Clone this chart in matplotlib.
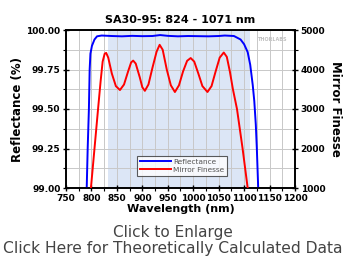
import matplotlib
matplotlib.use("Agg")
import matplotlib.pyplot as plt
from matplotlib.ticker import MultipleLocator

title = "SA30-95: 824 - 1071 nm"
band = [833, 1112]

refl_wl = [789.5, 790.7, 792.6, 795.0, 796.5, 798.0, 801.0, 806.0, 811.0, 820.0, 840.0, 860.0,
           880.0, 900.0, 920.0, 935.0, 950.0, 970.0, 990.0, 1010.0, 1030.0, 1050.0, 1062.0,
           1080.0, 1093.0, 1100.0, 1107.0, 1112.0, 1117.0, 1120.0, 1123.0, 1125.0, 1127.7, 1128.5]
refl_val = [98.9, 99.0, 99.25, 99.5, 99.75, 99.85, 99.9, 99.94, 99.96, 99.965, 99.962, 99.96,
            99.963, 99.961, 99.962, 99.968, 99.963, 99.96, 99.962, 99.961, 99.96, 99.962, 99.965,
            99.962, 99.94, 99.91, 99.86, 99.78, 99.65, 99.55, 99.4, 99.25, 99.0, 98.9]

fin_wl = [797.5, 799, 806, 813, 818, 822, 826, 829, 833, 840, 848, 856, 864, 872, 878, 882, 887,
          895, 900, 905, 912, 920, 928, 934, 940, 948, 956, 964, 972, 980, 988, 995, 1002,
          1010, 1018, 1028, 1036, 1044, 1052, 1060, 1066, 1072, 1078, 1086, 1097, 1107, 1108.5]
fin_val = [900, 1000, 2000, 3000, 3700, 4200, 4400, 4420, 4300, 3900, 3580, 3480, 3620, 3950,
           4180, 4225, 4150, 3800, 3550, 3460, 3620, 4050, 4450, 4625, 4500, 4000, 3600, 3430,
           3600, 3950, 4220, 4290, 4200, 3900, 3580, 3430, 3580, 3950, 4300, 4430, 4320, 3950,
           3500, 3000, 2000, 1000, 900]

legend_labels = ["Reflectance", "Mirror Finesse"]

fig = plt.figure(figsize=(3.46, 2.58), dpi=100)
ax = fig.add_axes([66/346, 1-188/258, (295-66)/346, (188-30)/258])
ax2 = ax.twinx()

ax.axvspan(band[0], band[1], color="#dce6f6", zorder=0, lw=0)
ax.set_xlim(750, 1200)
ax.set_ylim(99.0, 100.0)
ax2.set_ylim(1000, 5000)

ax.xaxis.set_major_locator(MultipleLocator(50))
ax.xaxis.set_minor_locator(MultipleLocator(25))
ax.yaxis.set_major_locator(MultipleLocator(0.25))
ax.yaxis.set_minor_locator(MultipleLocator(0.125))
ax2.yaxis.set_major_locator(MultipleLocator(1000))
ax2.yaxis.set_minor_locator(MultipleLocator(500))

ax.grid(True, which="both", color="#c8c8c8", lw=0.7, zorder=1)
ax.set_axisbelow(True)

l1, = ax.plot(refl_wl, refl_val, color="#0000ff", lw=1.4, zorder=3, clip_on=True)
l2, = ax2.plot(fin_wl, fin_val, color="#ff0000", lw=1.4, zorder=3)

for a in (ax, ax2):
    for s in a.spines.values():
        s.set_linewidth(1.2)
ax.tick_params(which="major", direction="inout", length=5, width=1.0, labelsize=6.5, pad=1.5)
ax.tick_params(which="minor", direction="out", length=2.5, width=0.8)
ax2.tick_params(which="major", direction="inout", length=5, width=1.0, labelsize=6.5, pad=1.5)
ax2.tick_params(which="minor", direction="out", length=2.5, width=0.8)
ax.set_yticklabels([f"{v:.2f}" for v in ax.get_yticks()])
for lab in ax.get_xticklabels() + ax.get_yticklabels() + ax2.get_yticklabels():
    lab.set_fontweight("bold")

ax.set_ylabel("Reflectance (%)", fontsize=8.5, fontweight="bold", labelpad=2)
ax2.set_ylabel("Mirror Finesse", fontsize=8.5, fontweight="bold", rotation=270, labelpad=12)
ax.set_xlabel("Wavelength (nm)", fontsize=8, fontweight="bold", labelpad=1)
ax.set_title(title, fontsize=8, fontweight="bold", pad=5)

leg = ax2.legend([l1, l2], legend_labels, loc="lower left", bbox_to_anchor=(0.295, 0.055),
                 fontsize=5.3, frameon=True, fancybox=False, edgecolor="#333333",
                 handlelength=4.2, handletextpad=0.3, borderpad=0.4, labelspacing=0.25)
leg.get_frame().set_linewidth(0.8)
for t in leg.get_texts():
    t.set_color("#555555")

ax.text(0.965, 0.94, "THORLABS", transform=ax.transAxes, ha="right", va="center",
        fontsize=3.5, color="#c0c0c0", fontweight="bold")

fig.text(0.5, 1-232/258, "Click to Enlarge", ha="center", va="center", fontsize=11, color="#444444")
fig.text(0.5, 1-249/258, "Click Here for Theoretically Calculated Data", ha="center", va="center",
         fontsize=11.2, color="#444444")

fig.savefig("out.png", dpi=100)
